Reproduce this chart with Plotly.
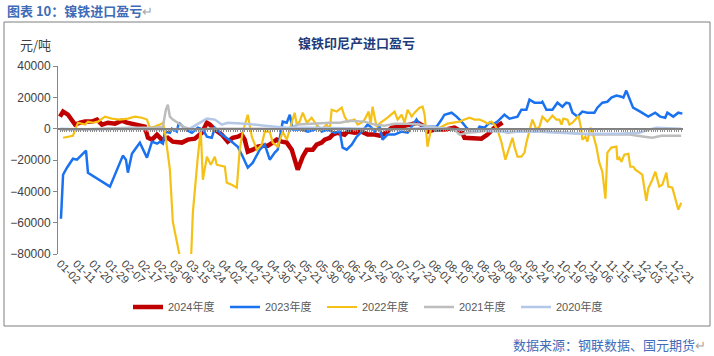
import plotly.graph_objects as go

# Category tick labels (one every ~7 trading days)
tick_labels = ["01-02", "01-11", "01-20", "01-29", "02-07", "02-17", "02-26", "03-06", "03-15",
               "03-24", "04-02", "04-12", "04-21", "04-30", "05-12", "05-21", "05-30", "06-08",
               "06-17", "06-26", "07-05", "07-14", "07-23", "08-01", "08-10", "08-19", "08-28",
               "09-06", "09-15", "09-24", "10-10", "10-19", "10-28", "11-06", "11-15", "11-24",
               "12-03", "12-12", "12-21"]

# positions are in units of tick-label steps (0 = 01-02)
x_2024 = [0, 0.19, 0.49, 0.74, 0.93, 1.24, 1.55, 1.98, 2.29, 2.60, 2.97, 3.40, 3.83, 4.14, 4.64, 5.25,
          5.44, 5.69, 6.0, 6.30, 6.67, 6.98, 7.54, 7.91, 8.34, 8.78, 9.09, 9.27, 9.58, 10.01, 10.38,
          10.69, 11.0, 11.25, 11.43, 11.62, 11.93, 12.24, 12.55, 12.86, 13.16, 13.41, 13.72, 14.03,
          14.34, 14.52, 14.71, 15.02, 15.27, 15.64, 15.88, 16.19, 16.38, 16.69, 16.87, 17.18, 17.61,
          17.80, 18.23, 18.67, 19.04, 19.47, 19.78, 20.09, 20.53, 21.14, 21.76, 22.13, 22.56, 22.74,
          23.18, 23.79, 24.41, 24.85, 25.03, 25.65, 26.08, 26.45, 26.88, 27.38]
y_2024 = [7700, 10900, 9000, 5800, 2600, 3800, 4500, 4500, 5800, 2600, 3800, 3200, 5100, 3800, 2600, 1300,
          -5800, -7000, -3800, -7000, -5800, -8300, -8900, -7000, -6400, -2600, 3800, 2600, -600, -3800, -8300,
          -5800, -5100, -3800, -7000, -14700, -13400, -11500, -10900, -10900, -8900, -7000, -8300, -8900,
          -13400, -19800, -26200, -17900, -13400, -13400, -10200, -8900, -7000, -5800, -3800, -2600, -3800,
          -1900, -2600, -1900, -3800, -3800, -4500, -3200, 600, 1300, 2600, 3800, 1300, -1900,
          -600, -600, 600, -1900, -5800, -5800, -6400, -3800, 600, 3800]

x_2023 = [0.06, 0.19, 0.43, 0.80, 1.05, 1.61, 1.73, 3.09, 3.89, 4.08, 4.20, 4.45, 4.76, 4.94, 5.38, 5.69,
          6.0, 6.18, 6.37, 6.49, 6.80, 6.92, 7.23, 7.35, 7.60, 7.91, 8.16, 8.53, 8.84, 9.09, 9.39, 9.58,
          9.89, 10.01, 10.63, 11.0, 11.31, 11.62, 11.93, 12.18, 12.36, 12.67, 12.98, 13.29, 13.47, 13.78,
          14.03, 14.22, 14.40, 14.96, 15.33, 15.76, 15.95, 16.19, 16.56, 16.99, 17.31, 17.49, 17.74, 18.05,
          18.36, 18.67, 19.04, 19.28, 19.47, 19.78, 19.96, 20.27, 20.70, 21.14, 21.51, 22.06, 22.25, 22.56,
          23.30, 23.61, 23.79, 24.23, 24.54, 24.85, 25.15, 25.46, 25.77, 25.96, 26.27, 26.58, 26.88, 27.07,
          27.50, 27.81, 28.12, 28.31, 28.55, 28.86, 29.05, 29.36, 29.79, 29.85, 30.10, 30.47, 30.78, 31.09,
          31.33, 31.52, 31.71, 32.02, 32.32, 32.63, 33.07, 33.25, 33.56, 33.87, 34.12, 34.43, 34.74, 34.86,
          35.04, 35.23, 35.46, 35.90, 36.21, 36.40, 36.83, 37.14, 37.45, 37.58, 37.95, 38.26, 38.51]
y_2023 = [-57500, -29400, -24900, -19200, -19800, -14000, -28100, -37000, -17200, -19800, -28100, -16000,
          -11500, -8900, -18500, -8300, -9600, -8300, -9600, -1900, -2600, 0, -1900, 3800, 1300, -1300,
          -2600, 600, -600, -5100, -5800, 600, -2600, -3800, -8300, -11500, -17900, -24900, -21700, -16600,
          -13400, -10200, -19800, -15300, -13400, 4500, 3800, 8900, -600, -600, -1900, -600, 1300, -1900,
          -600, -2600, -1900, -12100, -13400, -10200, -5100, -1900, 2600, 600, -1900, 1300, -7000, -3800,
          -3800, -1900, -2600, 5800, 2600, 1300, 1300, 5800, 8900, 10200, 7700, 4500, 600, -1900, -1900,
          1300, 600, 3800, 3200, 4500, 8900, 6400, 7000, 7700, 12100, 12100, 18500, 16600, 16600, 17200,
          12100, 12100, 16600, 14000, 16600, 16000, 10200, 7700, 10900, 10200, 10200, 13400, 16600, 17200,
          19800, 21100, 20400, 19800, 24300, 19800, 13400, 10900, 8900, 7700, 10200, 7700, 7000, 10200,
          7700, 10200, 9600]

x_2022 = [0.19, 0.80, 1.11, 1.55, 1.73, 2.04, 2.35, 2.78, 3.21, 3.71, 4.20, 4.64, 5.07, 5.38, 5.56, 5.87,
          6.18, 6.37, 6.49, 6.80, 6.98, 7.29, 7.48, 8.10, 8.22, 8.53, 8.71, 8.84, 9.09, 9.33, 9.58, 9.70,
          10.20, 10.32, 10.63, 10.94, 11.12, 11.31, 11.62, 11.87, 12.18, 12.48, 12.67, 12.98, 13.16, 13.47,
          13.78, 14.03, 14.34, 14.52, 14.65, 14.83, 15.02, 15.27, 15.57, 15.76, 15.95, 16.19, 16.50, 16.69,
          16.81, 17.12, 17.43, 17.61, 17.80, 18.23, 18.42, 18.67, 18.85, 19.10, 19.22, 19.34, 19.59, 19.84,
          20.27, 20.70, 20.89, 21.14, 21.32, 21.51, 21.76, 21.94, 22.25, 22.44, 22.56, 22.74, 22.99, 23.18,
          23.49, 23.98, 24.41, 24.72, 25.03, 25.34, 25.65, 25.96, 26.27, 26.45, 26.70, 26.88, 27.07, 27.32,
          27.56, 27.81, 28.00, 28.12, 28.31, 28.55, 28.74, 28.86, 29.05, 29.23, 29.48, 29.67, 29.85, 30.16,
          30.47, 30.72, 30.90, 31.03, 31.15, 31.40, 31.52, 31.71, 31.89, 32.08, 32.26, 32.32, 32.51, 32.63,
          32.82, 32.94, 33.19, 33.37, 33.56, 33.75, 33.87, 34.12, 34.43, 34.49, 34.61, 34.74, 34.92, 35.17,
          35.29, 35.48, 35.60, 36.03, 36.28, 36.40, 36.65, 36.84, 37.08, 37.27, 37.52, 37.64, 37.89, 38.07,
          38.26, 38.44]
y_2022 = [-5800, -4500, 3800, 2600, 4500, 3800, 4500, 7700, 6400, 5800, 6400, 7700, 7000, 5800, 600, 1300,
          2600, 3800, -1900, -26200, -59400, -74100, -85000, -85000, -53600, -17900, -600, -32600, -17900,
          -23000, -17900, -23000, -24300, -34500, -35800, -37700, -13400, -1900, 8900, -5100, -13400, -10200,
          -1900, -1900, -8900, -11500, -1900, -7000, 4500, 10200, 2600, 4500, 10200, 3800, 7000, 4500, 1300,
          -600, 2600, -600, 12100, 10900, 13400, 7700, 4500, 5800, 2600, 3800, 5800, 10900, 2600, 14000, 1300,
          3800, 7000, 10900, 5800, 8900, 3800, 12100, 7700, 10200, 13400, 14000, 8900, -11500, 1300, -600,
          600, 3200, 3800, 4500, 5800, 7000, 5800, 5800, 4500, 3200, 4500, 2600, -600, -8900, -19800, -12100,
          -5800, -11500, -17900, -17900, -15300, -8900, -1900, 5800, -600, 1300, 7700, 4500, 8300, 5800, 5800,
          2600, 6400, 5800, 2600, 3800, 5800, 8300, -600, -7000, -5100, -8300, 600, -1900, -11500, -21700,
          -27500, -44700, -15300, -12100, -11500, -19800, -18500, -21100, -16600, -16000, -24300, -24300,
          -26200, -29400, -46000, -38300, -32600, -27500, -37000, -35800, -28100, -37000, -37700, -45300,
          -51700, -47300]

x_2021 = [0, 1.24, 2.47, 4.33, 5.87, 6.37, 6.55, 6.67, 6.80, 6.98, 7.29, 7.60, 8.03, 8.65, 9.27, 10.51,
          12.36, 14.22, 14.71, 15.45, 16.69, 17.31, 17.92, 18.85, 19.47, 20.09, 20.70, 21.63, 22.25, 22.87,
          23.49, 24.41, 24.72, 25.22, 25.96, 26.88, 27.69, 28.43, 29.36, 30.28, 31.52, 32.76, 33.99, 35.23,
          36.16, 36.65, 37.21, 38.44]
y_2021 = [-600, -600, 0, 600, 600, 1300, 12100, 15300, 7700, 5800, 3800, 1300, 0, -600, 0, 0,
          0, 0, 2600, 3200, 3800, 3800, 5100, 4500, 2600, 1900, 3200, 3200, 2600, 1300,
          600, -600, -3800, -2600, -1900, -600, -2600, -1900, -600, -1900, -2600, -3800, -3800, -3800,
          -5100, -5800, -4500, -4500]

x_2020 = [0, 1.85, 4.33, 6.18, 8.03, 8.84, 9.09, 9.58, 10.01, 10.38, 11.43, 12.67, 14.03, 16.07, 18.23,
          21.01, 22.87, 24.72, 27.19, 29.67, 32.14, 34.61, 35.85, 36.46, 36.90, 38.44]
y_2020 = [0, -600, 0, -600, 0, 4500, 6400, 5800, 2600, 3800, 3200, 1900, 600, 600, 0,
          -600, 600, -600, -1900, -1900, -3200, -3200, -2600, -600, 600, 0]

y_ticks = [40000, 20000, 0, -20000, -40000, -60000, -80000]

series = [
    ("2024年度", x_2024, y_2024, "#C00000", 4.5),
    ("2023年度", x_2023, y_2023, "#1A72F0", 2.5),
    ("2022年度", x_2022, y_2022, "#F5C116", 2.2),
    ("2021年度", x_2021, y_2021, "#BDBDBD", 2.5),
    ("2020年度", x_2020, y_2020, "#B4C7E7", 2.5),
]

fig = go.Figure()
for name, xs, ys, color, w in series:
    fig.add_trace(go.Scatter(x=xs, y=ys, name=name, mode="lines",
                             line=dict(color=color, width=w)))

# zero line with dense tick marks (category axis crossing at 0)
fig.add_trace(go.Scatter(x=[-0.124, 38.55], y=[0, 0], xaxis="x2", mode="lines",
                         line=dict(color="rgba(0,0,0,0)", width=0), showlegend=False, hoverinfo="skip"))

W, H = 714, 356
L, R, T, B = 58, 31, 66, 102
pw, ph = W - L - R, H - T - B


def px(x):
    return (x - L) / pw


def py(y):
    return (H - B - y) / ph


xr = [-0.124, 38.55]
fig.update_layout(
    width=W, height=H,
    margin=dict(l=L, r=R, t=T, b=B, autoexpand=False),
    paper_bgcolor="white", plot_bgcolor="white",
    font=dict(family="Liberation Sans, Arial, Noto Sans CJK SC", color="#404040", size=12),
    xaxis=dict(range=xr, tickmode="array", tickvals=list(range(len(tick_labels))),
               ticktext=tick_labels, tickangle=45, showline=False, showgrid=False,
               zeroline=False, ticks="", tickfont=dict(size=11, color="#404040")),
    xaxis2=dict(range=xr, overlaying="x", anchor="free", position=80000 / 120000,
                showline=True, linecolor="#7F7F7F", linewidth=1.5, ticks="outside", ticklen=3,
                tickcolor="#8C8C8C", tickwidth=1, tickmode="linear", tick0=0, dtick=1 / 7,
                showticklabels=False, showgrid=False, zeroline=False),
    yaxis=dict(range=[-80000, 40000], tickmode="array", tickvals=y_ticks,
               ticktext=[str(v) if v >= 0 else "\u2212" + str(-v) for v in y_ticks],
               showline=True, linecolor="#868686", linewidth=1, ticks="outside", ticklen=4,
               tickcolor="#868686", showgrid=False, zeroline=False,
               tickfont=dict(size=12, color="#404040")),
    legend=dict(orientation="h", x=0.5, xanchor="center", y=py(307), yanchor="middle",
                font=dict(size=11, color="#595959", family="Liberation Sans, Noto Sans CJK SC"),
                itemwidth=30, entrywidth=52, traceorder="normal", bgcolor="rgba(0,0,0,0)"),
    showlegend=True,
)

fig.add_shape(type="rect", xref="paper", yref="paper", x0=px(4), x1=px(710), y0=py(326), y1=py(22),
              line=dict(color="#7F7F7F", width=1), layer="below")

fig.add_annotation(xref="paper", yref="paper", x=px(5), y=py(11), xanchor="left", yanchor="middle",
                   text="<b>图表 10：镍铁进口盈亏</b><span style='color:#A6A6A6'>↵</span>",
                   showarrow=False, font=dict(family="Noto Sans CJK SC", size=13, color="#3F6CB8"))
fig.add_annotation(xref="paper", yref="paper", x=px(18), y=py(44), xanchor="left", yanchor="middle",
                   text="元/吨", showarrow=False,
                   font=dict(family="Noto Sans CJK SC", size=13, color="#404040"))
fig.add_annotation(xref="paper", yref="paper", x=px(356), y=py(42), xanchor="center", yanchor="middle",
                   text="<b>镍铁印尼产进口盈亏</b>", showarrow=False,
                   font=dict(family="Noto Sans CJK SC", size=13, color="#1F3C7A"))
fig.add_annotation(xref="paper", yref="paper", x=px(708), y=py(344), xanchor="right", yanchor="middle",
                   text="数据来源：钢联数据、国元期货<span style='color:#A6A6A6'>↵</span>",
                   showarrow=False, font=dict(family="Noto Sans CJK SC", size=13, color="#3F6CB8"))

fig.write_html("out.html", config={"displayModeBar": False},
               post_script="document.body.style.margin='0';document.body.style.padding='0';")
